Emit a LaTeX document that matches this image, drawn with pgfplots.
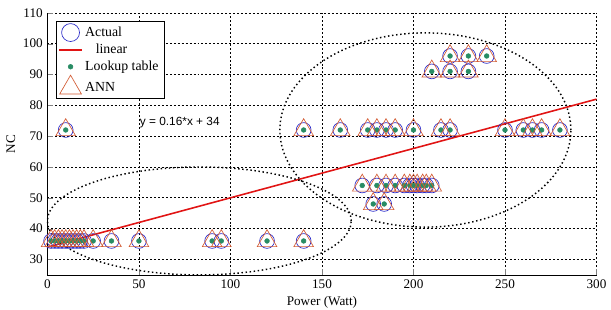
\documentclass[border=0pt]{standalone}
\usepackage{pgfplots}
\pgfplotsset{compat=1.18}
\usepackage{pgfplotstable}
\usepackage{fontspec}
\setmainfont{Liberation Serif}
\newfontfamily\arial{Liberation Sans}
\definecolor{cblue}{RGB}{40,40,200}
\definecolor{ctri}{RGB}{210,90,50}
\definecolor{cgreen}{RGB}{40,140,100}
\definecolor{cred}{RGB}{225,20,20}
\pgfplotstableread{
x y
2 36
4 36
6 36
8 36
10 36
12 36
14 36
16 36
18 36
20 36
25 36
35 36
50 36
90 36
95 36
120 36
140 36
10 72
140 72
160 72
175 72
180 72
185 72
190 72
200 72
215 72
220 72
250 72
260 72
265 72
270 72
280 72
210 91
220 91
230 91
220 96
230 96
240 96
172 54
180 54
185 54
190 54
195 54
198 54
200 54
202 54
205 54
207 54
210 54
178 48
184 48
}\pts
\pgfplotstableread{
x y
0 34
300 82
}\lin
\begin{document}
\begin{tikzpicture}
\begin{axis}[
  scale only axis,
  width=417pt, height=199pt,
  xmin=0, xmax=300, ymin=25, ymax=110,
  xtick={0,50,...,300}, ytick={30,40,...,110},
  axis x line*=bottom, axis y line*=left,
  tick align=inside,
  grid=major,
  major grid style={black, dash pattern=on 1.5pt off 1.5pt, line width=0.5pt},
  tick label style={font=\fontsize{10}{12}\selectfont},
  /pgf/number format/assume math mode=true,
  label style={font=\fontsize{10}{12}\selectfont},
  xlabel={Power (Watt)}, ylabel={NC},
  xlabel style={yshift=1pt},
  ylabel style={yshift=-1pt},
  legend style={at={(0.015,0.97)}, anchor=north west, draw=black, font=\fontsize{10.5}{12}\selectfont, row sep=0pt, inner sep=2pt, nodes={inner sep=2pt}},
  legend cell align=left,
  clip=false,
]
\addplot[only marks, mark=o, mark size=5.6pt, cblue, mark options={line width=0.5pt}, forget plot] table {\pts};
\addplot[cred, line width=1.2pt, forget plot] table {\lin};
\addplot[only marks, mark=*, mark size=1.8pt, cgreen, forget plot] table {\pts};
\addplot[only marks, mark=triangle, mark size=8.6pt, ctri, mark options={line width=0.5pt}, forget plot] table {\pts};
\addlegendimage{only marks, mark=o, mark size=6.8pt, cblue, mark options={line width=0.5pt}}
\addlegendentry{Actual}
\addlegendimage{cred, line width=1.2pt}
\addlegendentry{\hspace{8pt}linear}
\addlegendimage{only marks, mark=*, mark size=1.8pt, cgreen}
\addlegendentry{Lookup table}
\addlegendimage{only marks, mark=triangle, mark size=9.5pt, ctri, mark options={line width=0.5pt}}
\addlegendentry{ANN}
\draw[black, dotted, line width=1.1pt] (axis cs:83,42.5) ellipse [x radius=83, y radius=17.5];
\draw[black, dotted, line width=1.1pt] (axis cs:206.5,72) ellipse [x radius=79.5, y radius=31.5];
\node[anchor=west, font=\arial\fontsize{9}{10}\selectfont] at (axis cs:48,74.5) {y = 0.16*x + 34};
\end{axis}
\pgfresetboundingbox
\path ([shift={(-36pt,-26.25pt)}]current axis.south west) rectangle ([shift={(11pt,9.75pt)}]current axis.north east);
\end{tikzpicture}
\end{document}
